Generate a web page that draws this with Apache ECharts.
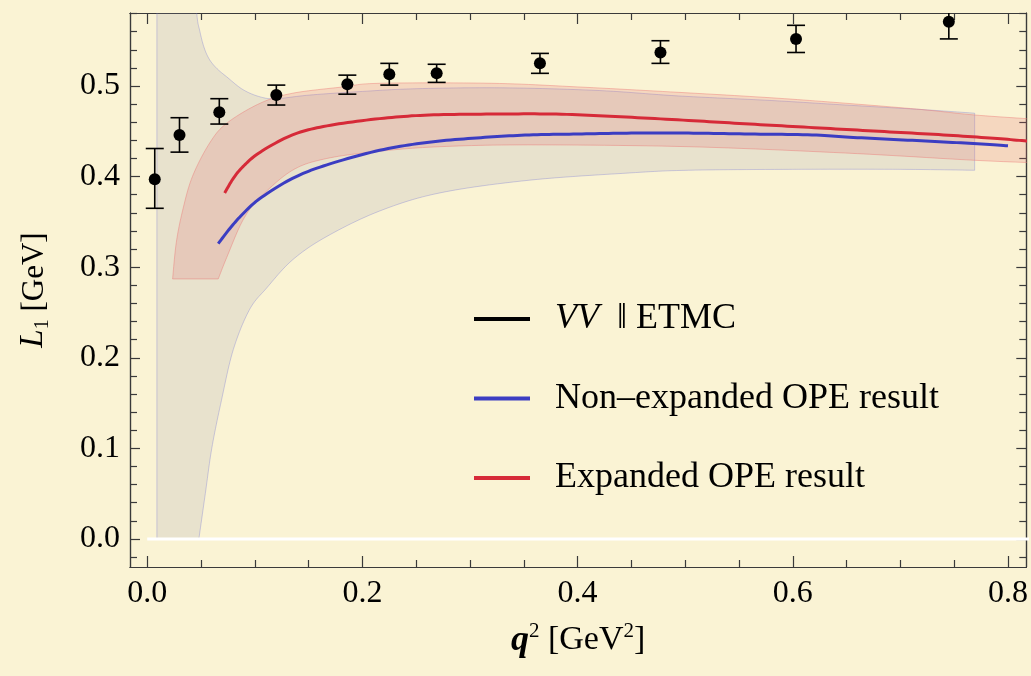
<!DOCTYPE html>
<html><head><meta charset="utf-8">
<script src="https://cdn.jsdelivr.net/npm/echarts@6/dist/echarts.min.js"></script>
<style>html,body{margin:0;padding:0;background:#FAF3D4}#c{width:1031px;height:676px}</style>
</head><body><div id="c"></div>
<script>
// ---- axis ticks ----
const xMajorTicks = [0, 0.2, 0.4, 0.6, 0.8];
const xMinorTicks = [0.05, 0.1, 0.15, 0.25, 0.3, 0.35, 0.45, 0.5, 0.55, 0.65, 0.7, 0.75];
const yMajorTicks = [0, 0.1, 0.2, 0.3, 0.4, 0.5];
const yMinorTicks = [-0.02, 0.02, 0.04, 0.06, 0.08, 0.12, 0.14, 0.16, 0.18, 0.22, 0.24, 0.26, 0.28,
  0.32, 0.34, 0.36, 0.38, 0.42, 0.44, 0.46, 0.48, 0.52, 0.54, 0.56, 0.58];

// ---- lattice data: VV || ETMC ----
const etmcQ2 = [0.007, 0.030, 0.067, 0.120, 0.186, 0.225, 0.269, 0.365, 0.477, 0.603, 0.745];
const etmcL1 = [0.397, 0.446, 0.471, 0.490, 0.502, 0.513, 0.514, 0.525, 0.537, 0.552, 0.571];
const etmcLo = [0.365, 0.427, 0.458, 0.479, 0.491, 0.501, 0.504, 0.514, 0.525, 0.537, 0.552];
const etmcHi = [0.431, 0.465, 0.486, 0.501, 0.512, 0.525, 0.524, 0.536, 0.550, 0.567, 0.590];

// ---- Non-expanded OPE (blue) ----
const blueQ2 = [0.066, 0.077, 0.089, 0.105, 0.135, 0.167, 0.216, 0.262, 0.310, 0.355, 0.400, 0.450, 0.503, 0.560, 0.618, 0.660, 0.711, 0.760, 0.800];
const blueL1 = [0.326, 0.343, 0.359, 0.376, 0.398, 0.413, 0.429, 0.438, 0.443, 0.446, 0.447, 0.448, 0.448, 0.447, 0.446, 0.443, 0.440, 0.437, 0.434];

// ---- Expanded OPE (red) ----
const redQ2 = [0.072, 0.080, 0.089, 0.105, 0.135, 0.167, 0.216, 0.262, 0.320, 0.380, 0.440, 0.503, 0.560, 0.620, 0.680, 0.740, 0.790, 0.820];
const redL1 = [0.382, 0.398, 0.411, 0.427, 0.446, 0.456, 0.464, 0.468, 0.469, 0.469, 0.466, 0.462, 0.458, 0.454, 0.450, 0.446, 0.442, 0.439];

// ---- uncertainty band, non-expanded (grey) ----
const greyEdgeQ2 = [0.009, 0.009];           // vertical left edge
const greyEdgeL1 = [0.0, 0.66];
const greyUpperQ2 = [0.0435, 0.046, 0.049, 0.053, 0.058, 0.065, 0.074, 0.089, 0.105, 0.120, 0.151, 0.20, 0.25, 0.33, 0.42, 0.494, 0.58, 0.649, 0.72, 0.769];
const greyUpperL1 = [0.640, 0.581, 0.560, 0.542, 0.529, 0.519, 0.510, 0.496, 0.488, 0.486, 0.490, 0.494, 0.497, 0.498, 0.495, 0.489, 0.484, 0.479, 0.474, 0.470];
const greyLowerQ2 = [0.048, 0.054, 0.060, 0.069, 0.080, 0.095, 0.111, 0.135, 0.167, 0.216, 0.272, 0.355, 0.448, 0.503, 0.60, 0.70, 0.769];
const greyLowerL1 = [0.0, 0.05, 0.10, 0.153, 0.209, 0.253, 0.277, 0.308, 0.334, 0.362, 0.382, 0.396, 0.404, 0.407, 0.408, 0.408, 0.407];

// ---- uncertainty band, expanded (red) ----
const redBandUpperQ2 = [0.0236, 0.027, 0.033, 0.042, 0.058, 0.074, 0.105, 0.135, 0.182, 0.216, 0.32, 0.40, 0.494, 0.58, 0.649, 0.72, 0.769, 0.83];
const redBandUpperL1 = [0.287, 0.327, 0.363, 0.400, 0.437, 0.459, 0.481, 0.492, 0.499, 0.503, 0.503, 0.499, 0.493, 0.487, 0.481, 0.474, 0.468, 0.463];
const redBandLowerQ2 = [0.066, 0.074, 0.089, 0.105, 0.135, 0.167, 0.216, 0.272, 0.355, 0.503, 0.649, 0.769, 0.83];
const redBandLowerL1 = [0.287, 0.311, 0.352, 0.377, 0.407, 0.420, 0.428, 0.433, 0.435, 0.433, 0.426, 0.418, 0.415];

// ---- zero line ----
const zeroQ2 = [0.0, 0.83];
const zeroL1 = [0.0, 0.0];

const SERIF = "'Liberation Serif', 'DejaVu Serif', serif";
const X_MIN = -0.016, X_MAX = 0.817, Y_MIN = -0.031, Y_MAX = 0.5806;
const AX = '#3a3a3a';
const BLUE = '#3B3DC2', RED = '#D62A38';

function zip(a, b) { return a.map((v, i) => [v, b[i]]); }

// Catmull-Rom smoothing of already projected pixel points (rendering only)
function smoothPx(pts, steps) {
  if (pts.length < 3) return pts.slice();
  const out = [];
  for (let i = 0; i < pts.length - 1; i++) {
    const p0 = pts[Math.max(i - 1, 0)], p1 = pts[i], p2 = pts[i + 1], p3 = pts[Math.min(i + 2, pts.length - 1)];
    for (let s = 0; s < steps; s++) {
      const t = s / steps, t2 = t * t, t3 = t2 * t;
      out.push([0, 1].map(k => 0.5 * ((2 * p1[k]) + (-p0[k] + p2[k]) * t +
        (2 * p0[k] - 5 * p1[k] + 4 * p2[k] - p3[k]) * t2 + (-p0[k] + 3 * p1[k] - 3 * p2[k] + p3[k]) * t3)));
    }
  }
  out.push(pts[pts.length - 1]);
  return out;
}

function bandSeries(prefix, upper, lower, fill, stroke) {
  return {
    type: 'custom', clip: true, silent: true, z: 1,
    xAxisIndex: 0, yAxisIndex: 0,
    data: [0],
    renderItem: function (params, api) {
      const pre = prefix.map(p => api.coord(p));
      const up = smoothPx(upper.map(p => api.coord(p)), 12);
      const lo = smoothPx(lower.map(p => api.coord(p)), 12).reverse();
      return {
        type: 'polygon',
        shape: { points: pre.concat(up, lo) },
        style: { fill: fill, stroke: stroke, lineWidth: 1 }
      };
    }
  };
}

function curveSeries(name, pts, color) {
  return {
    name: name, type: 'custom', clip: true, silent: true, z: 3,
    xAxisIndex: 0, yAxisIndex: 0,
    itemStyle: { color: color },
    data: [0],
    renderItem: function (params, api) {
      return {
        type: 'polyline',
        shape: { points: smoothPx(pts.map(p => api.coord(p)), 12) },
        style: { stroke: color, lineWidth: 3, fill: null, lineJoin: 'round', lineCap: 'butt' }
      };
    }
  };
}

function xAxisDef(pos, ticks, len, labels) {
  return {
    type: 'value', position: pos, min: X_MIN, max: X_MAX, gridIndex: 0,
    axisLine: { show: true, onZero: false, lineStyle: { color: AX, width: 1.2 } },
    axisTick: { show: true, inside: true, length: len, customValues: ticks, lineStyle: { color: AX, width: 1.2 } },
    axisLabel: labels ? {
      show: true, customValues: xMajorTicks, margin: 11,
      formatter: v => v.toFixed(1),
      fontFamily: SERIF, fontSize: 32, color: '#000'
    } : { show: false },
    splitLine: { show: false }
  };
}
function yAxisDef(pos, ticks, len, labels) {
  return {
    type: 'value', position: pos, min: Y_MIN, max: Y_MAX, gridIndex: 0,
    axisLine: { show: true, onZero: false, lineStyle: { color: AX, width: 1.2 } },
    axisTick: { show: true, inside: true, length: len, customValues: ticks, lineStyle: { color: AX, width: 1.2 } },
    axisLabel: labels ? {
      show: true, customValues: yMajorTicks, margin: 10,
      formatter: v => v.toFixed(1),
      fontFamily: SERIF, fontSize: 32, color: '#000'
    } : { show: false },
    splitLine: { show: false }
  };
}

const xMain = xAxisDef('bottom', xMajorTicks, 11, true);
xMain.name = '{b|q}{sup|2} [GeV{sup|2}]';
xMain.nameLocation = 'middle';
xMain.nameGap = 54;
xMain.nameTextStyle = {
  fontFamily: SERIF, fontSize: 34, color: '#000',
  rich: {
    b: { fontFamily: SERIF, fontSize: 36, fontWeight: 'bold', fontStyle: 'italic', color: '#000', verticalAlign: 'bottom', lineHeight: 38 },
    sup: { fontFamily: SERIF, fontSize: 21, color: '#000', verticalAlign: 'top', lineHeight: 38 }
  }
};

const yMain = yAxisDef('left', yMajorTicks, 10, true);
yMain.name = '{i|L}{sub|1} [GeV]';
yMain.nameLocation = 'middle';
yMain.nameGap = 77;
yMain.nameRotate = 90;
yMain.nameTextStyle = {
  fontFamily: SERIF, fontSize: 31, color: '#000',
  rich: {
    i: { fontFamily: SERIF, fontSize: 33, fontStyle: 'italic', color: '#000', verticalAlign: 'top', lineHeight: 36 },
    sub: { fontFamily: SERIF, fontSize: 20, color: '#000', verticalAlign: 'bottom', lineHeight: 36 }
  }
};

const ETMC = 'VV ‖ ETMC';
const NONEXP = 'Non–expanded OPE result';
const EXP = 'Expanded OPE result';

const option = {
  backgroundColor: '#FAF3D4',
  animation: false,
  grid: { left: 130, right: 4, top: 13, bottom: 109, containLabel: false },
  xAxis: [
    xMain,
    xAxisDef('bottom', xMinorTicks, 7, false),
    xAxisDef('top', xMajorTicks, 11, false),
    xAxisDef('top', xMinorTicks, 7, false)
  ],
  yAxis: [
    yMain,
    yAxisDef('left', yMinorTicks, 7, false),
    yAxisDef('right', yMajorTicks, 10, false),
    yAxisDef('right', yMinorTicks, 7, false)
  ],
  legend: {
    orient: 'vertical', left: 474, top: 299, padding: 0,
    itemWidth: 56, itemHeight: 4, itemGap: 39.5,
    textStyle: {
      fontFamily: SERIF, fontSize: 36, color: '#000', padding: [0, 0, 0, 20], lineHeight: 40,
      rich: { it: { fontFamily: SERIF, fontSize: 36, fontStyle: 'italic', color: '#000', lineHeight: 40 } }
    },
    formatter: function (name) { return name === ETMC ? '{it|VV}  ‖ ETMC' : name; },
    data: [
      { name: ETMC, icon: 'rect', itemStyle: { color: '#000' } },
      { name: NONEXP, icon: 'rect', itemStyle: { color: BLUE } },
      { name: EXP, icon: 'rect', itemStyle: { color: RED } }
    ]
  },
  series: [
    bandSeries(zip(greyEdgeQ2, greyEdgeL1), zip(greyUpperQ2, greyUpperL1), zip(greyLowerQ2, greyLowerL1),
      'rgba(140,140,170,0.17)', 'rgba(120,120,215,0.35)'),
    bandSeries([], zip(redBandUpperQ2, redBandUpperL1), zip(redBandLowerQ2, redBandLowerL1),
      'rgba(225,105,110,0.20)', 'rgba(235,110,110,0.40)'),
    {
      type: 'line', silent: true, z: 2, data: zip(zeroQ2, zeroL1), showSymbol: false,
      lineStyle: { color: '#FFFFFF', width: 3 }
    },
    curveSeries(NONEXP, zip(blueQ2, blueL1), BLUE),
    curveSeries(EXP, zip(redQ2, redL1), RED),
    {
      type: 'custom', clip: true, z: 4, silent: true,
      data: etmcQ2.map((q, i) => [q, etmcLo[i], etmcHi[i]]),
      renderItem: function (params, api) {
        const lo = api.coord([api.value(0), api.value(1)]);
        const hi = api.coord([api.value(0), api.value(2)]);
        const w = 9;
        const st = { stroke: '#000', lineWidth: 1.6 };
        return {
          type: 'group', children: [
            { type: 'line', shape: { x1: lo[0], y1: lo[1], x2: hi[0], y2: hi[1] }, style: st },
            { type: 'line', shape: { x1: lo[0] - w, y1: lo[1], x2: lo[0] + w, y2: lo[1] }, style: st },
            { type: 'line', shape: { x1: hi[0] - w, y1: hi[1], x2: hi[0] + w, y2: hi[1] }, style: st }
          ]
        };
      }
    },
    {
      name: ETMC, type: 'scatter', z: 5, symbol: 'circle', symbolSize: 12,
      data: zip(etmcQ2, etmcL1), color: '#000', itemStyle: { color: '#000', opacity: 1 }
    }
  ]
};

const chart = echarts.init(document.getElementById('c'), null, { renderer: 'canvas' });
chart.setOption(option);
</script>
</body></html>
